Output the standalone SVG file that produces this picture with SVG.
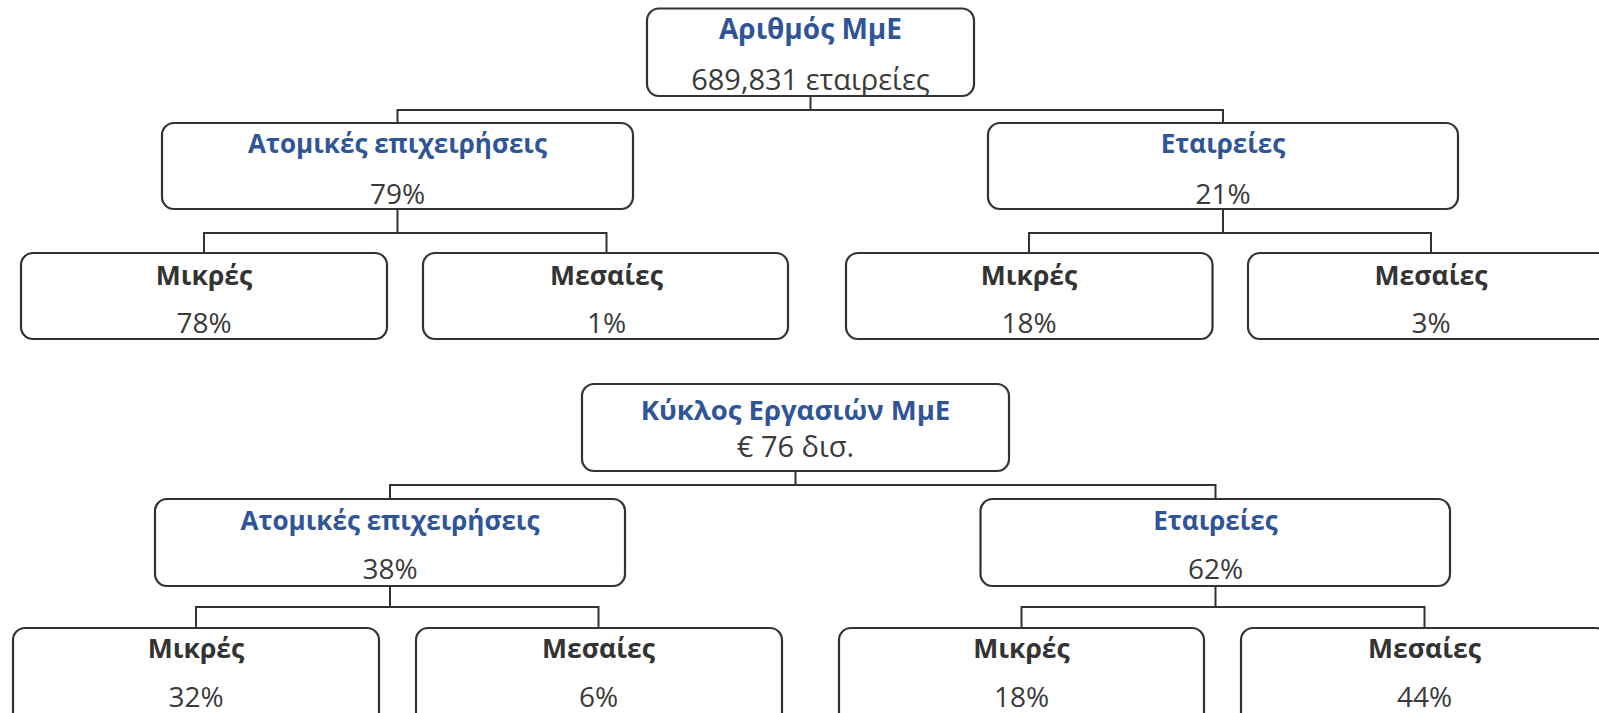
<svg xmlns="http://www.w3.org/2000/svg" width="1599" height="713" viewBox="0 0 1599 713">
<style>
.box{fill:#fff;stroke:#333;stroke-width:2.2}
.con{fill:none;stroke:#333;stroke-width:2}
text{font-family:"Open Sans","Noto Sans","Liberation Sans",sans-serif;text-anchor:middle;font-size:26px}
.t{fill:#2F5597;font-weight:bold;font-size:26px}
.k{fill:#333;font-weight:bold;font-size:26.5px}
.v{fill:#3a3a3a;font-size:28px}
</style>
<rect width="1599" height="713" fill="#fff"/>
<g id="connectors">
<path class="con" d="M810.5 96V110M397.5 123V110H1223V123"/>
<path class="con" d="M397.5 209V233M204 253V233H606.5V253"/>
<path class="con" d="M1223 209V233M1029 253V233H1431V253"/>
<path class="con" d="M795.5 471V485M390 499V485H1215.5V499"/>
<path class="con" d="M390 586V607M196 628V607H598.5V628"/>
<path class="con" d="M1215.5 586V607M1021.5 628V607H1424.5V628"/>
</g>
<g id="root1"><rect class="box" x="647" y="8.5" width="327" height="87.5" rx="12"/>
<text class="t" x="810.5" y="39" style="font-size:28px">Αριθμός ΜμΕ</text>
<text class="v" x="810.5" y="90" style="font-size:29px">689,831 εταιρείες</text></g>
<g id="ind1"><rect class="box" x="162" y="123" width="471" height="86" rx="12"/>
<text class="t" x="397.5" y="153">Ατομικές επιχειρήσεις</text>
<text class="v" x="397.5" y="204">79%</text></g>
<g id="comp1"><rect class="box" x="988" y="123" width="470" height="86" rx="12"/>
<text class="t" x="1223" y="153">Εταιρείες</text>
<text class="v" x="1223" y="204">21%</text></g>
<g id="ind1small"><rect class="box" x="21" y="253" width="366" height="86" rx="12"/>
<text class="k" x="204" y="285">Μικρές</text>
<text class="v" x="204" y="333">78%</text></g>
<g id="ind1med"><rect class="box" x="423" y="253" width="365" height="86" rx="12"/>
<text class="k" x="606.5" y="285">Μεσαίες</text>
<text class="v" x="606.5" y="333">1%</text></g>
<g id="comp1small"><rect class="box" x="846" y="253" width="366.5" height="86" rx="12"/>
<text class="k" x="1029" y="285">Μικρές</text>
<text class="v" x="1029" y="333">18%</text></g>
<g id="comp1med"><rect class="box" x="1248" y="253" width="367" height="86" rx="12"/>
<text class="k" x="1431" y="285">Μεσαίες</text>
<text class="v" x="1431" y="333">3%</text></g>
<g id="root2"><rect class="box" x="582" y="384" width="427" height="87" rx="12"/>
<text class="t" x="795.5" y="420" style="font-size:27.5px">Κύκλος Εργασιών ΜμΕ</text>
<text class="v" x="795.5" y="457" style="font-size:29px">€ 76 δισ.</text></g>
<g id="ind2"><rect class="box" x="155" y="499" width="470" height="87" rx="12"/>
<text class="t" x="390" y="530">Ατομικές επιχειρήσεις</text>
<text class="v" x="390" y="579">38%</text></g>
<g id="comp2"><rect class="box" x="980.5" y="499" width="469.5" height="87" rx="12"/>
<text class="t" x="1215.5" y="530">Εταιρείες</text>
<text class="v" x="1215.5" y="579">62%</text></g>
<g id="ind2small"><rect class="box" x="13" y="628" width="366" height="100" rx="12"/>
<text class="k" x="196" y="658">Μικρές</text>
<text class="v" x="196" y="707">32%</text></g>
<g id="ind2med"><rect class="box" x="416" y="628" width="366" height="100" rx="12"/>
<text class="k" x="598.5" y="658">Μεσαίες</text>
<text class="v" x="598.5" y="707">6%</text></g>
<g id="comp2small"><rect class="box" x="839" y="628" width="365" height="100" rx="12"/>
<text class="k" x="1021.5" y="658">Μικρές</text>
<text class="v" x="1021.5" y="707">18%</text></g>
<g id="comp2med"><rect class="box" x="1241" y="628" width="367" height="100" rx="12"/>
<text class="k" x="1424.5" y="658">Μεσαίες</text>
<text class="v" x="1424.5" y="707">44%</text></g>
</svg>
